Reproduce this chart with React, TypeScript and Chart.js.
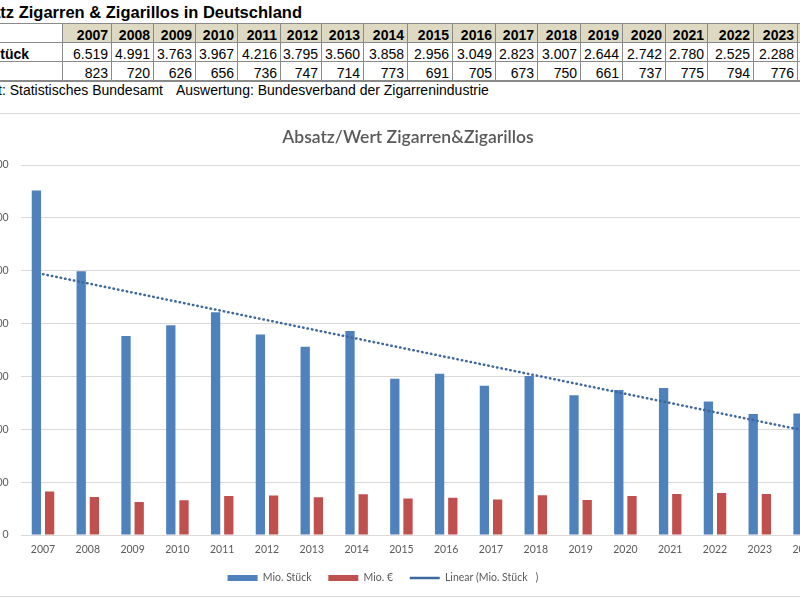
import React, { useEffect, useRef } from "react";
import { Chart, registerables } from "chart.js";

Chart.register(...registerables);

// ---- data ----
const years = ["2007", "2008", "2009", "2010", "2011", "2012", "2013", "2014", "2015", "2016", "2017", "2018", "2019", "2020", "2021", "2022", "2023", "2024"];
const mioStueck = [6519, 4991, 3763, 3967, 4216, 3795, 3560, 3858, 2956, 3049, 2823, 3007, 2644, 2742, 2780, 2525, 2288, 2300];
const mioEuro = [823, 720, 626, 656, 736, 747, 714, 773, 691, 705, 673, 750, 661, 737, 775, 794, 776, 780];
// linear trendline end points
const trendLine = [4935, null, null, null, null, null, null, null, null, null, null, null, null, null, null, null, null, 1975];
const yMin = 0;
const yMax = 7000;
const yStep = 1000;

const tableTitle = "Absatz Zigarren & Zigarillos in Deutschland";
const rowLabels = ["Mio. Stück", "Mio. €"];
const sourceLeft = "Herkunft: Statistisches Bundesamt";
const sourceRight = "Auswertung: Bundesverband der Zigarrenindustrie";
const chartTitle = "Absatz/Wert Zigarren&Zigarillos";
const seriesLabels = ["Mio. Stück", "Mio. €", "Linear (Mio. Stück   )"];

// table column widths (layout)
const labelColWidth = 107;
const colWidths = [49, 42, 42, 42, 43, 41, 42, 44, 45, 43, 42, 43, 42, 43, 42, 46, 44, 45];

const fmt = (v: number) => String(v).replace(/\B(?=(\d{3})+(?!\d))/g, ".");

const BLUE = "#4f81bd";
const RED = "#c0504d";
const TREND = "#3e679c";
const GREY_TEXT = "#595959";
const CHART_FONT = "Lato, 'Noto Sans', sans-serif";

const shiftLegend = {
  id: "shiftLegend",
  afterLayout(chart: any) {
    const lg = chart.legend;
    if (lg) {
      lg.left -= 25;
      lg.right -= 25;
    }
  },
};

export default function App() {
  const canvasRef = useRef<HTMLCanvasElement | null>(null);

  useEffect(() => {
    const canvas = canvasRef.current;
    if (!canvas) return;
    const chart = new Chart(canvas, {
      type: "bar",
      data: {
        labels: years,
        datasets: [
          {
            type: "bar",
            label: seriesLabels[0],
            data: mioStueck,
            backgroundColor: BLUE,
            borderWidth: 0,
            categoryPercentage: 0.589,
            barPercentage: 0.705,
            pointStyle: "rect",
            order: 1,
          } as any,
          {
            type: "bar",
            label: seriesLabels[1],
            data: mioEuro,
            backgroundColor: RED,
            borderWidth: 0,
            categoryPercentage: 0.589,
            barPercentage: 0.705,
            pointStyle: "rect",
            order: 2,
          } as any,
          {
            type: "line",
            label: seriesLabels[2],
            data: trendLine,
            borderColor: TREND,
            backgroundColor: "rgba(0,0,0,0)",
            borderWidth: 2.5,
            borderDash: [0.5, 4],
            borderCapStyle: "round",
            pointRadius: 0,
            pointHoverRadius: 0,
            spanGaps: true,
            fill: false,
            pointStyle: "line",
            order: 0,
          } as any,
        ],
      },
      options: {
        animation: false,
        responsive: false,
        maintainAspectRatio: false,
        events: [],
        layout: { padding: { left: 38, right: 22, top: 0, bottom: 2.75 } },
        plugins: {
          title: {
            display: true,
            text: chartTitle,
            color: GREY_TEXT,
            font: { family: CHART_FONT, size: 17.5, weight: "600" },
            padding: { top: 13, bottom: 17 },
          },
          legend: {
            position: "bottom",
            labels: {
              usePointStyle: true,
              pointStyleWidth: 30,
              boxHeight: 6,
              color: GREY_TEXT,
              font: { family: CHART_FONT, size: 10.5 },
              padding: 16.75,
              sort: (a: any, b: any) => a.datasetIndex - b.datasetIndex,
            },
          },
          tooltip: { enabled: false },
        },
        scales: {
          x: {
            grid: { display: false, drawTicks: false },
            border: { display: false },
            ticks: { color: GREY_TEXT, font: { family: CHART_FONT, size: 10.5 }, padding: 8.7, maxRotation: 0, autoSkip: false },
            afterFit: (s: any) => {
              s.height = 21;
            },
          },
          y: {
            min: yMin,
            max: yMax,
            border: { display: false },
            grid: { color: "#d9d9d9", lineWidth: 1, drawTicks: false },
            ticks: {
              stepSize: yStep,
              color: GREY_TEXT,
              font: { family: CHART_FONT, size: 10.5 },
              padding: 12,
              callback: (v: any) => fmt(Number(v)),
            },
            afterFit: (s: any) => {
              s.width = 31.6;
            },
          },
        },
      } as any,
      plugins: [shiftLegend],
    });
    return () => chart.destroy();
  }, []);

  const cellBase: React.CSSProperties = {
    border: "1px solid #8a8a8a",
    padding: "0 3px 0 0",
    verticalAlign: "bottom",
    lineHeight: "14px",
    textAlign: "right",
    whiteSpace: "nowrap",
    overflow: "hidden",
    boxSizing: "border-box",
  };

  const tableWidth = labelColWidth + colWidths.reduce((a, b) => a + b, 0);

  return (
    <div
      style={{
        position: "fixed",
        left: 0,
        top: 0,
        width: 800,
        height: 600,
        overflow: "hidden",
        background: "#ffffff",
        fontFamily: "'Liberation Sans', Arial, sans-serif",
        color: "#000",
      }}
    >
      <div
        style={{
          position: "absolute",
          left: -40,
          top: 3,
          fontSize: 16.5,
          fontWeight: "bold",
          whiteSpace: "nowrap",
          lineHeight: "normal",
        }}
      >
        {tableTitle}
      </div>
      <table
        style={{
          position: "absolute",
          left: -45,
          top: 23,
          width: tableWidth,
          borderCollapse: "collapse",
          tableLayout: "fixed",
          fontSize: 14,
        }}
      >
        <colgroup>
          <col style={{ width: labelColWidth }} />
          {colWidths.map((w, i) => (
            <col key={i} style={{ width: w }} />
          ))}
        </colgroup>
        <tbody>
          <tr style={{ height: 19 }}>
            <td style={{ ...cellBase, width: labelColWidth }} />
            {years.map((y, i) => (
              <td key={y} style={{ ...cellBase, width: colWidths[i], fontWeight: "bold", background: "#ddd9c3" }}>
                {y}
              </td>
            ))}
          </tr>
          <tr style={{ height: 19 }}>
            <td style={{ ...cellBase, textAlign: "left", paddingLeft: 3, fontWeight: "bold" }}>{rowLabels[0]}</td>
            {mioStueck.map((v, i) => (
              <td key={i} style={{ ...cellBase }}>
                {fmt(v)}
              </td>
            ))}
          </tr>
          <tr style={{ height: 19 }}>
            <td style={{ ...cellBase, textAlign: "left", paddingLeft: 3, fontWeight: "bold", borderBottom: "2px solid #8a8a8a" }}>
              {rowLabels[1]}
            </td>
            {mioEuro.map((v, i) => (
              <td key={i} style={{ ...cellBase, borderBottom: "2px solid #8a8a8a" }}>
                {fmt(v)}
              </td>
            ))}
          </tr>
        </tbody>
      </table>
      <div style={{ position: "absolute", left: -51, top: 82, fontSize: 14, whiteSpace: "nowrap", lineHeight: "16px" }}>
        {sourceLeft}
      </div>
      <div style={{ position: "absolute", left: 176, top: 82, fontSize: 14, whiteSpace: "nowrap", lineHeight: "16px" }}>
        {sourceRight}
      </div>
      <div
        style={{
          position: "absolute",
          left: -50,
          top: 113,
          width: 900,
          height: 484,
          border: "1px solid #d9d9d9",
          boxSizing: "border-box",
          background: "#fff",
        }}
      >
        <canvas ref={canvasRef} width={898} height={482} style={{ display: "block", width: 898, height: 482 }} />
      </div>
    </div>
  );
}
